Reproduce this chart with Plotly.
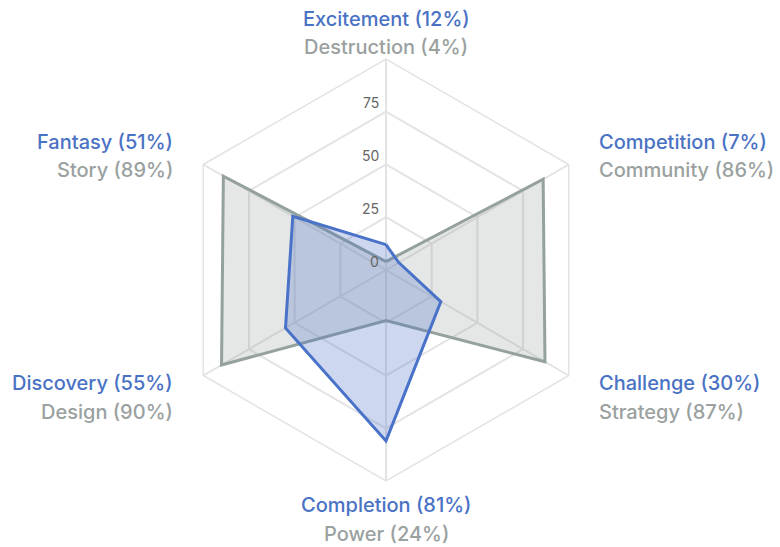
import plotly.graph_objects as go

# ---- data ----
motivations = ["Excitement", "Competition", "Challenge", "Completion", "Discovery", "Fantasy"]
motivation_values = [12, 7, 30, 81, 55, 51]
subtypes = ["Destruction", "Community", "Strategy", "Power", "Design", "Story"]
subtype_values = [4, 86, 87, 24, 90, 89]
radial_ticks = [0, 25, 50, 75]

BLUE = "#4a72c8"
BLUE_FILL = "rgba(74,114,200,0.28)"
GREY = "#94a19c"
GREY_FILL = "rgba(148,161,156,0.25)"
BLUE_TXT = "#4a72c4"
GREY_TXT = "#9aa19f"
FONT = "Inter"

W, H = 780, 547
cx, cy, R = 386, 270, 211
RMAX = 100

fig = go.Figure()
fig.add_trace(go.Scatterpolar(
    r=subtype_values + subtype_values[:1],
    theta=motivations + motivations[:1],
    mode="lines", fill="toself", fillcolor=GREY_FILL,
    line=dict(color=GREY, width=3), name="Subtypes", hoverinfo="skip"))
fig.add_trace(go.Scatterpolar(
    r=motivation_values + motivation_values[:1],
    theta=motivations + motivations[:1],
    mode="lines", fill="toself", fillcolor=BLUE_FILL,
    line=dict(color=BLUE, width=3), name="Motivations", hoverinfo="skip"))

fig.update_layout(
    width=W, height=H,
    margin=dict(l=0, r=0, t=0, b=0),
    paper_bgcolor="white", plot_bgcolor="white",
    showlegend=False,
    font=dict(family=FONT),
    polar=dict(
        domain=dict(x=[(cx - R) / W, (cx + R) / W], y=[1 - (cy + R) / H, 1 - (cy - R) / H]),
        bgcolor="white",
        gridshape="linear",
        angularaxis=dict(rotation=90, direction="clockwise", showticklabels=False,
                         ticks="", gridcolor="#e3e3e3", linecolor="#e3e3e3", gridwidth=1.5, linewidth=1.5),
        radialaxis=dict(range=[0, RMAX], angle=90, tickvals=radial_ticks, showticklabels=False,
                        ticks="", showline=False, gridcolor="#e3e3e3", gridwidth=1.5),
    ),
)

# radial tick labels, sitting just above each ring on the vertical axis
for t in radial_ticks:
    ypx = cy - R * t / RMAX - 9
    fig.add_annotation(x=(cx - 5) / W, y=1 - ypx / H, xref="paper", yref="paper",
                       xanchor="right", yanchor="middle", showarrow=False, text=str(t),
                       font=dict(size=14, family=FONT, color="#666666"))

# category labels: (x anchor px, line-1 centre y px, line-2 centre y px, anchor)
label_pos = [
    (386, 19, 47, "center"),
    (597, 142, 170, "left"),
    (597, 383, 412, "left"),
    (386, 505, 534, "center"),
    (175, 383, 412, "right"),
    (175, 142, 170, "right"),
]
for i, (x, y1, y2, xa) in enumerate(label_pos):
    fig.add_annotation(x=x / W, y=1 - y1 / H, xref="paper", yref="paper",
                       xanchor=xa, yanchor="middle", showarrow=False,
                       text=f"{motivations[i]} ({motivation_values[i]}%)",
                       font=dict(size=20, family=FONT, color=BLUE_TXT, weight=500))
    fig.add_annotation(x=x / W, y=1 - y2 / H, xref="paper", yref="paper",
                       xanchor=xa, yanchor="middle", showarrow=False,
                       text=f"{subtypes[i]} ({subtype_values[i]}%)",
                       font=dict(size=20, family=FONT, color=GREY_TXT, weight=500))

fig.write_html("out.html")
